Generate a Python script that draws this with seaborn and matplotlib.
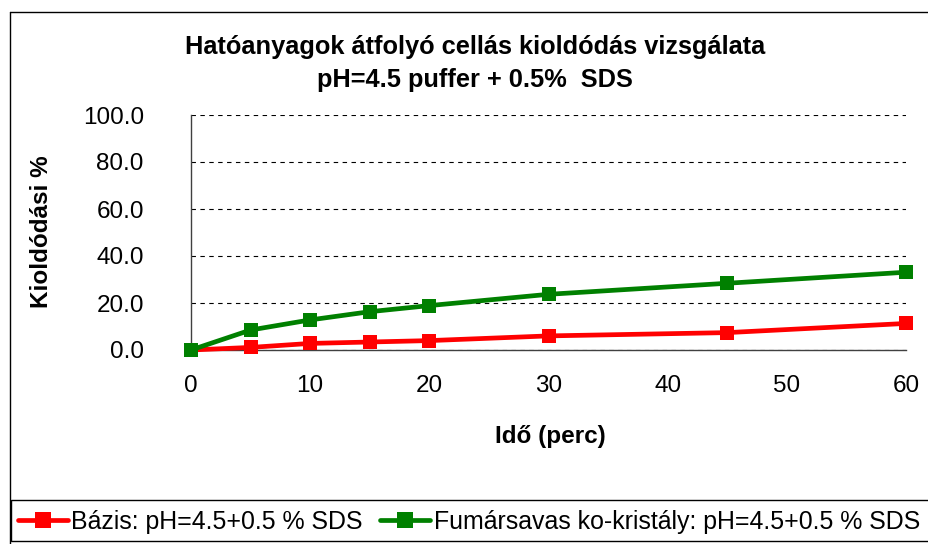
import pandas as pd
import matplotlib.pyplot as plt
import matplotlib.ticker as ticker
from matplotlib.lines import Line2D
from matplotlib.patches import Rectangle
import seaborn as sns

# ********** Data **********
time_min = [0, 5, 10, 15, 20, 30, 45, 60]
basis = [0.0, 1.1, 2.8, 3.4, 4.0, 6.0, 7.4, 11.3]
fumaric = [0.0, 8.5, 12.8, 16.3, 18.9, 23.7, 28.4, 33.1]

label_basis = "Bázis: pH=4.5+0.5 % SDS"
label_fum = "Fumársavas ko-kristály: pH=4.5+0.5 % SDS"

df = pd.concat([
    pd.DataFrame({"Idő": time_min, "Kioldódás": basis, "Minta": label_basis}),
    pd.DataFrame({"Idő": time_min, "Kioldódás": fumaric, "Minta": label_fum}),
])

sns.set_style("white")
plt.rcParams["font.family"] = ["Liberation Sans", "DejaVu Sans"]
plt.rcParams["text.color"] = "black"
plt.rcParams["xtick.color"] = "black"
plt.rcParams["ytick.color"] = "black"

fig = plt.figure(figsize=(9.29, 5.44), dpi=100)
W, H = 929, 544
ax = fig.add_axes([191 / W, 1 - 350 / H, (906 - 191) / W, (350 - 115) / H])

colors = {label_basis: "#ff0000", label_fum: "#008000"}
sns.lineplot(data=df, x="Idő", y="Kioldódás", hue="Minta", palette=colors,
             marker="s", markersize=10.5, markeredgewidth=0, linewidth=3.4,
             legend=False, ax=ax, clip_on=False, zorder=3)

ax.set_xlim(0, 60)
ax.set_ylim(0, 100)
ax.xaxis.set_major_locator(ticker.MultipleLocator(10))
ax.yaxis.set_major_locator(ticker.MultipleLocator(20))
ax.yaxis.set_major_formatter(ticker.FormatStrFormatter("%.1f"))
ax.grid(axis="y", color="black", linestyle=(0, (4, 4)), linewidth=0.8)
ax.set_axisbelow(True)

for side in ["top", "right"]:
    ax.spines[side].set_visible(False)
for side in ["left", "bottom"]:
    ax.spines[side].set_color("#404040")
    ax.spines[side].set_linewidth(1)

ax.tick_params(axis="y", direction="inout", length=8, width=1, color="#404040",
               labelcolor="black", labelsize=17.5, pad=30)
ax.tick_params(axis="x", direction="out", length=5, width=1, color="#404040",
               labelcolor="black", labelsize=17.5, pad=13)
ax.set_xlabel("")
ax.set_ylabel("")

# Titles and axis labels
fig.text(475 / W, 1 - 47 / H, "Hatóanyagok átfolyó cellás kioldódás vizsgálata",
         ha="center", va="center", fontsize=18.3, fontweight="bold")
fig.text(475 / W, 1 - 80 / H, "pH=4.5 puffer + 0.5%  SDS",
         ha="center", va="center", fontsize=18.3, fontweight="bold")
fig.text(42 / W, 1 - 232 / H, "Kioldódási %", rotation=90,
         ha="center", va="center", fontsize=17.5, fontweight="bold")
fig.text(550 / W, 1 - 436 / H, "Idő (perc)",
         ha="center", va="center", fontsize=17.5, fontweight="bold")

# Outer chart frame (left and top edges visible)
fig.add_artist(Line2D([10 / W, 10 / W], [0, 1 - 12 / H], transform=fig.transFigure,
                      color="black", linewidth=1))
fig.add_artist(Line2D([10 / W, 1], [1 - 12 / H, 1 - 12 / H], transform=fig.transFigure,
                      color="black", linewidth=1))

# Legend box running off the right edge
fig.add_artist(Rectangle((11 / W, 3 / H), 930 / W, 41 / H, transform=fig.transFigure,
                         facecolor="white", edgecolor="black", linewidth=1, zorder=4))

handles = [Line2D([], [], color=colors[k], marker="s", markersize=11,
                  markeredgewidth=0, linewidth=3.4) for k in [label_basis, label_fum]]
leg = fig.legend(handles, [label_basis, label_fum], loc="center left",
                 bbox_to_anchor=(18 / W, 22.5 / H), ncol=2, fontsize=17.9,
                 frameon=False, handlelength=2.0, handletextpad=0.15,
                 columnspacing=0.7, borderpad=0, borderaxespad=0)
leg.set_zorder(5)

plt.savefig("out.png", dpi=100)
